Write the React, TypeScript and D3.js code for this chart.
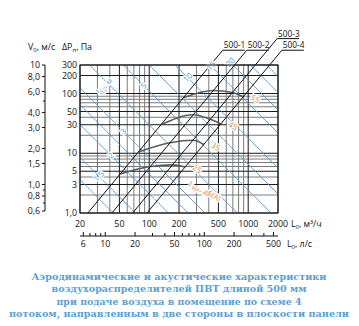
import React from "react";
import * as d3 from "d3";

// ---- data ----
const flowTicks = [20, 50, 100, 200, 500, 1000, 2000];
const flowGridDark = [20, 50, 100, 200, 500, 1000, 2000];
const flowGridLight = [30, 40, 60, 70, 80, 90, 300, 400, 600, 700, 800, 900];
const lsTicks = [6, 10, 20, 50, 100, 200, 500];
const lsMinor = [7, 8, 9, 30, 40, 60, 70, 80, 90, 300, 400];
const dpTicks = [300, 200, 100, 50, 30, 10, 5, 3, 1];
const dpTickLabels = ["300", "200", "100", "50", "30", "10", "5", "3", "1,0"];
const dpGridDark = [1, 3, 5, 10, 30, 50, 100, 200, 300];
const dpGridLight = [2, 4, 6, 7, 8, 9, 20, 40, 60, 70, 80, 90];
const vTicks = [10, 8, 6, 4, 3, 2, 1.5, 1, 0.8, 0.6];
const vTickLabels = ["10", "8,0", "6,0", "4,0", "3,0", "2,0", "1,5", "1,0", "0,8", "0,6"];
const vMinor = [0.7, 0.9, 5];

const models = ["500-1", "500-2", "500-3", "500-4"];
const modelFlowAt1Pa = [24, 42, 68, 95];
const modelLabelDp = [530, 530, 830, 530];

// throw isolines: pressure at L0 = 100 m3/h
const throwExp = 1.66;
const throwDpAt100 = [0.25, 0.59, 2.1, 4.5, 8.6, 30, 110, 300, 817, 3150, 7640, 15000, 28000];
const throwLabelText = ["", "1,5", "2", "", "3", "", "5", "", "10", "15", "20", "", ""];
const throwLabelFlow = [0, 31, 41, 0, 55, 0, 88, 0, 245, 420, 660, 0, 0];

const noiseLevels = ["25", "35", "45", "55"];
const noiseDp = [
  [4.5, 6.0, 6.4, 5.9],
  [10.5, 15, 16.5, 14],
  [30, 44, 37, 31],
  [85, 112, 104, 88],
];

const title = [
  "Аэродинамические и акустические характеристики",
  "воздухораспределителей ПВТ длиной 500 мм",
  "при подаче воздуха в помещение по схеме 4",
  "потоком, направленным в две стороны в плоскости панели",
];

const W = 359, H = 326;
const left = 80, right = 278, top = 65, bottom = 213;

export default function App() {
  const x = d3.scaleLog().domain([20, 2000]).range([left, right]);
  const y = d3.scaleLog().domain([1, 300]).range([bottom, top]);
  const xs = d3.scaleLog().domain([20 / 3.6, 2000 / 3.6]).range([left, right]);
  const yv = d3.scaleLog().domain([10 * Math.sqrt(1 / 300), 10]).range([bottom, top]);
  const font = "'Open Sans', 'Noto Sans', sans-serif";
  const blue = "#4f9ad4";
  const orange = "#d98b4e";
  const fs = 8.8;

  const line = d3.line<[number, number]>().x((d) => x(d[0])).y((d) => y(d[1]));
  const curve = d3.line<[number, number]>().x((d) => x(d[0])).y((d) => y(d[1])).curve(d3.curveMonotoneX);

  const throwPts = (c: number) => {
    const pts: [number, number][] = [];
    for (let i = 0; i <= 200; i++) {
      const L = 20 * Math.pow(100, i / 200);
      pts.push([L, c * Math.pow(100 / L, throwExp)]);
    }
    return pts;
  };

  return (
    <svg width={W} height={H} style={{ display: "block", position: "absolute", left: 0, top: 0, background: "#fff" }}>
      <defs>
        <clipPath id="plot">
          <rect x={left} y={top} width={right - left} height={bottom - top} />
        </clipPath>
      </defs>
      {/* grid */}
      <g>
        {flowGridLight.map((v) => (
          <line key={"fl" + v} x1={x(v)} x2={x(v)} y1={top} y2={bottom} stroke="#7a7a7a" strokeWidth={1} />
        ))}
        {dpGridLight.map((v) => (
          <line key={"dl" + v} x1={left} x2={right} y1={y(v)} y2={y(v)} stroke="#7a7a7a" strokeWidth={1} />
        ))}
        {flowGridDark.map((v) => (
          <line key={"fd" + v} x1={x(v)} x2={x(v)} y1={top} y2={bottom} stroke="#1a1a1a" strokeWidth={1} />
        ))}
        {dpGridDark.map((v) => (
          <line key={"dd" + v} x1={left} x2={right} y1={y(v)} y2={y(v)} stroke="#1a1a1a" strokeWidth={1} />
        ))}
      </g>
      {/* throw lines */}
      <g clipPath="url(#plot)">
        {throwDpAt100.map((c, i) => (
          <path key={"t" + i} d={line(throwPts(c)) || ""} fill="none" stroke={blue} strokeWidth={1} />
        ))}
      </g>
      {/* noise curves */}
      <g>
        {noiseDp.map((row, i) => {
          const pts: [number, number][] = row.map((dp, j) => [modelFlowAt1Pa[j] * Math.sqrt(dp), dp]);
          return <path key={"n" + i} d={curve(pts) || ""} fill="none" stroke="#5c5c5c" strokeWidth={1.6} />;
        })}
      </g>
      {/* model lines */}
      <g>
        {models.map((m, i) => {
          const k = modelFlowAt1Pa[i];
          const dpEnd = modelLabelDp[i];
          const x1 = x(k), y1 = y(1);
          const x2 = x(k * Math.sqrt(dpEnd)), y2 = y(dpEnd);
          return (
            <g key={m}>
              <line x1={x1} y1={y1} x2={x2} y2={y2} stroke="#111" strokeWidth={1} />
              <line x1={x2} y1={y2} x2={x2 + 22} y2={y2} stroke="#111" strokeWidth={1} />
              <text x={x2 + 1} y={y2 - 2} fontSize={8.3} fontFamily={font} fill="#111">{m}</text>
            </g>
          );
        })}
      </g>
      {/* throw labels */}
      <g>
        {throwLabelText.map((t, i) =>
          t ? (
            <text key={"tl" + i} transform={`translate(${x(throwLabelFlow[i])},${y(throwDpAt100[i] * Math.pow(100 / throwLabelFlow[i], throwExp))}) rotate(-45)`}
              textAnchor="middle" dy="0.35em" fontSize={8} fontFamily={font} fill={blue}
              stroke="#fff" strokeWidth={2.5} paintOrder="stroke">{t}</text>
          ) : null
        )}
        <text transform={`translate(104,86) rotate(-45)`} textAnchor="middle" dy="0.35em" fontSize={7.5} fontFamily={font} fill={blue} stroke="#fff" strokeWidth={2.5} paintOrder="stroke">
          l<tspan fontSize={5.5} dy="2">0,2</tspan><tspan dy="-2">, м</tspan>
        </text>
      </g>
      {/* noise labels */}
      <g>
        {noiseLevels.map((t, i) => {
          const dp = noiseDp[i][3];
          return (
            <text key={"nl" + i} transform={`translate(${x(modelFlowAt1Pa[3] * Math.sqrt(dp)) + 12},${y(dp) + 2}) rotate(30)`}
              textAnchor="middle" dy="0.35em" fontSize={8} fontFamily={font} fill={orange}
              stroke="#fff" strokeWidth={2.5} paintOrder="stroke">{t}</text>
          );
        })}
        <text transform="translate(205,191) rotate(28)" textAnchor="middle" dy="0.35em" fontSize={7.5} fontFamily={font} fill={orange} stroke="#fff" strokeWidth={2.5} paintOrder="stroke">
          L<tspan fontSize={5.5} dy="2">WA</tspan><tspan dy="-2">, дБ(А)</tspan>
        </text>
      </g>
      {/* frame */}
      <rect x={left} y={top} width={right - left} height={bottom - top} fill="none" stroke="#1a1a1a" strokeWidth={1} />
      {/* dp axis labels */}
      {dpTicks.map((v, i) => (
        <text key={"dp" + v} x={left - 3} y={y(v)} dy="0.35em" textAnchor="end" fontSize={fs} fontFamily={font} fill="#111">{dpTickLabels[i]}</text>
      ))}
      {/* velocity axis */}
      <line x1={45} x2={45} y1={yv(10)} y2={yv(0.6)} stroke="#111" strokeWidth={1} />
      {vTicks.map((v, i) => (
        <g key={"v" + v}>
          <line x1={42} x2={45} y1={yv(v)} y2={yv(v)} stroke="#111" strokeWidth={1} />
          <text x={40} y={yv(v)} dy="0.35em" textAnchor="end" fontSize={fs} fontFamily={font} fill="#111">{vTickLabels[i]}</text>
        </g>
      ))}
      {vMinor.map((v) => (
        <line key={"vm" + v} x1={43} x2={45} y1={yv(v)} y2={yv(v)} stroke="#111" strokeWidth={1} />
      ))}
      <text x={28} y={50} fontSize={fs} fontFamily={font} fill="#111">
        V<tspan fontSize={6} dy="2">0</tspan><tspan dy="-2">, м/с</tspan>
      </text>
      <text x={62} y={50} fontSize={fs} fontFamily={font} fill="#111">
        ΔP<tspan fontSize={6} dy="2">п</tspan><tspan dy="-2">, Па</tspan>
      </text>
      {/* flow axis labels */}
      {flowTicks.map((v) => (
        <text key={"fx" + v} x={x(v)} y={227} textAnchor="middle" fontSize={fs} fontFamily={font} fill="#111">{v}</text>
      ))}
      <text x={291} y={227} fontSize={fs} fontFamily={font} fill="#111">
        L<tspan fontSize={6} dy="2">0</tspan><tspan dy="-2">, м³/ч</tspan>
      </text>
      {/* l/s axis */}
      <line x1={left} x2={right} y1={236} y2={236} stroke="#111" strokeWidth={1} />
      {lsTicks.map((v) => (
        <g key={"ls" + v}>
          <line x1={xs(v)} x2={xs(v)} y1={232} y2={236} stroke="#111" strokeWidth={1} />
          <text x={xs(v)} y={247} textAnchor="middle" fontSize={fs} fontFamily={font} fill="#111">{v}</text>
        </g>
      ))}
      {lsMinor.map((v) => (
        <line key={"lsm" + v} x1={xs(v)} x2={xs(v)} y1={233} y2={236} stroke="#111" strokeWidth={1} />
      ))}
      <text x={287} y={247} fontSize={fs} fontFamily={font} fill="#111">
        L<tspan fontSize={6} dy="2">0</tspan><tspan dy="-2">, л/с</tspan>
      </text>
      {/* title */}
      {title.map((t, i) => (
        <text key={"ti" + i} x={179} y={280 + i * 12.3} textAnchor="middle" fontSize={9.2} fontWeight="bold"
          fontFamily="'DejaVu Serif', serif" fill="#5a9fd6"
          textLength={[295, 255, 245, 340][i]} lengthAdjust="spacingAndGlyphs">{t}</text>
      ))}
    </svg>
  );
}
